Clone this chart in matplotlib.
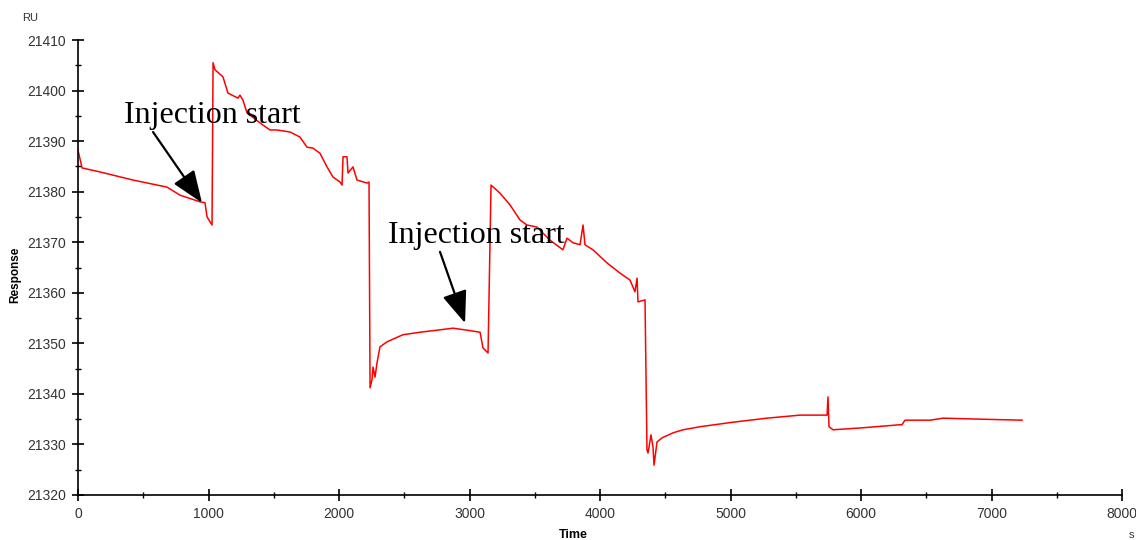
import matplotlib
matplotlib.use("Agg")
import matplotlib.pyplot as plt
from matplotlib.ticker import MultipleLocator

# Sensorgram trace (time in s, response in RU)
tiempo = [0, 31, 169, 421, 682, 782, 935, 973, 989, 1027,
          1035, 1050, 1111, 1149, 1226, 1241, 1264, 1295, 1395, 1471,
          1525, 1625, 1701, 1755, 1801, 1854, 1908, 1954, 2008, 2023,
          2031, 2061, 2069, 2107, 2138, 2215, 2230, 2238, 2253, 2261,
          2276, 2291, 2314, 2368, 2490, 2621, 2751, 2874, 2981, 3081,
          3103, 3142, 3165, 3234, 3310, 3387, 3441, 3517, 3617, 3716,
          3747, 3793, 3847, 3870, 3885, 3946, 4054, 4153, 4230, 4268,
          4284, 4291, 4345, 4360, 4368, 4391, 4406, 4414, 4437, 4475,
          4560, 4636, 4766, 5019, 5280, 5533, 5740, 5747, 5755, 5786,
          6015, 6299, 6314, 6337, 6529, 6629, 6912, 7234]
respuesta = [21388.2, 21384.7, 21383.9, 21382.3, 21380.9, 21379.3, 21378.0, 21377.8, 21375.0, 21373.4,
             21405.5, 21404.1, 21402.7, 21399.5, 21398.5, 21399.1, 21398.1, 21395.6, 21393.6, 21392.2,
             21392.2, 21391.8, 21390.8, 21388.8, 21388.6, 21387.6, 21384.9, 21382.9, 21381.9, 21381.3,
             21386.9, 21386.9, 21383.7, 21384.9, 21382.3, 21381.7, 21381.9, 21341.2, 21342.8, 21345.3,
             21343.3, 21346.1, 21349.3, 21350.3, 21351.7, 21352.2, 21352.6, 21353.0, 21352.6, 21352.2,
             21349.1, 21348.1, 21381.3, 21379.7, 21377.4, 21374.4, 21373.4, 21373.0, 21370.4, 21368.5,
             21370.8, 21369.9, 21369.5, 21373.4, 21369.5, 21368.5, 21365.9, 21363.9, 21362.5, 21360.2,
             21362.9, 21358.2, 21358.6, 21328.9, 21328.3, 21331.9, 21329.5, 21325.9, 21330.5, 21331.3,
             21332.3, 21332.9, 21333.5, 21334.4, 21335.2, 21335.8, 21335.8, 21339.4, 21333.5, 21332.9,
             21333.3, 21333.9, 21333.9, 21334.8, 21334.8, 21335.2, 21335.0, 21334.8]

# Annotations: (text x, text y, arrow start x, arrow start y, arrow tip x, arrow tip y)
etiqueta = "Injection start"
anotaciones = [(352, 21393.6, 575, 21391.8, 950, 21377.8),
               (2376, 21369.8, 2774, 21368.1, 2966, 21354.0)]

fig = plt.figure(figsize=(11.36, 5.4), dpi=100)
ax = fig.add_axes([78 / 1136, 45 / 540, 1044 / 1136, 455 / 540])

ax.plot(tiempo, respuesta, color="red", lw=1.1)

ax.set_xlim(0, 8000)
ax.set_ylim(21320, 21410)
ax.xaxis.set_major_locator(MultipleLocator(1000))
ax.xaxis.set_minor_locator(MultipleLocator(500))
ax.yaxis.set_major_locator(MultipleLocator(10))
ax.yaxis.set_minor_locator(MultipleLocator(5))

for s in ["top", "right"]:
    ax.spines[s].set_visible(False)
for s in ["left", "bottom"]:
    ax.spines[s].set_linewidth(1.2)

ax.tick_params(which="major", direction="inout", length=9, width=1.2,
               labelsize=10, labelcolor="#333333", pad=4)
ax.tick_params(which="minor", direction="inout", length=4, width=1.0)
for lbl in ax.get_xticklabels() + ax.get_yticklabels():
    lbl.set_family("Liberation Sans")

for tx, ty, ax0, ay0, ax1, ay1 in anotaciones:
    ax.text(tx, ty, etiqueta, family="Liberation Serif", fontsize=23,
            va="baseline", ha="left")
    ax.annotate("", xy=(ax1, ay1), xytext=(ax0, ay0),
                arrowprops=dict(arrowstyle="-|>,head_length=0.9,head_width=0.35",
                                mutation_scale=22, color="black", lw=1.6,
                                shrinkA=0, shrinkB=0))

fig.text(30 / 1136, 1 - 18 / 540, "RU", family="Liberation Sans", fontsize=8,
         ha="center", va="center", color="#333333")
fig.text(15 / 1136, 1 - 275 / 540, "Response", family="Liberation Sans",
         fontsize=8.5, fontweight="bold", rotation=90, ha="center", va="center")
fig.text(573 / 1136, 1 - 535 / 540, "Time", family="Liberation Sans",
         fontsize=9, fontweight="bold", ha="center", va="center")
fig.text(1131 / 1136, 1 - 535 / 540, "s", family="Liberation Sans",
         fontsize=8, ha="center", va="center", color="#333333")

fig.savefig("out.png", dpi=100)
